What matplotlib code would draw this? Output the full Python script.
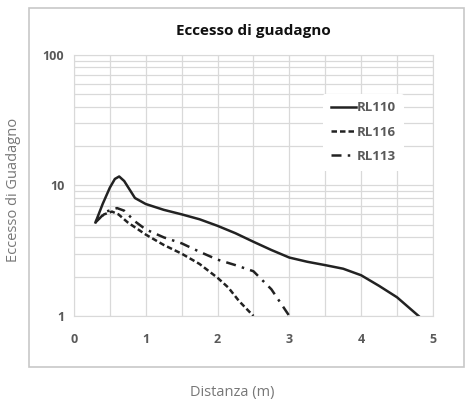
import matplotlib
matplotlib.use("Agg")
import matplotlib.pyplot as plt
from matplotlib.patches import Rectangle
from matplotlib.ticker import LogLocator, NullFormatter, MultipleLocator

# --- Data ---
x_rl110 = [0.3, 0.4, 0.5, 0.57, 0.63, 0.7, 0.85, 1.0, 1.25, 1.5, 1.75, 2.0, 2.25, 2.5,
           2.75, 3.0, 3.25, 3.5, 3.75, 4.0, 4.25, 4.5, 4.8]
y_rl110 = [5.2, 7.2, 9.6, 11.2, 11.7, 10.8, 8.0, 7.2, 6.5, 6.0, 5.5, 4.9, 4.3, 3.7,
           3.2, 2.8, 2.6, 2.45, 2.3, 2.05, 1.7, 1.39, 1.0]

x_rl116 = [0.3, 0.42, 0.53, 0.62, 0.75, 1.0, 1.25, 1.5, 1.75, 2.0, 2.15, 2.3, 2.5]
y_rl116 = [5.3, 6.0, 6.3, 6.0, 5.2, 4.2, 3.5, 3.0, 2.5, 1.96, 1.65, 1.3, 1.0]

x_rl113 = [0.3, 0.45, 0.6, 0.7, 0.85, 1.0, 1.25, 1.5, 1.75, 2.0, 2.25, 2.5, 2.75, 3.0]
y_rl113 = [5.2, 6.3, 6.7, 6.4, 5.3, 4.6, 4.0, 3.6, 3.1, 2.7, 2.45, 2.2, 1.6, 1.0]

TITLE = "Eccesso di guadagno"
XLABEL = "Distanza (m)"
YLABEL = "Eccesso di Guadagno"

TICK_COLOR = "#595959"
GRID_COLOR = "#d9d9d9"

fig = plt.figure(figsize=(4.65, 4.03), dpi=100)

# outer gray frame of the embedded chart
fig.patches.append(Rectangle((0.062, 0.089), 0.936, 0.891, transform=fig.transFigure,
                             fill=False, edgecolor="#c8c8c8", linewidth=1.2))

ax = fig.add_axes([0.159, 0.216, 0.772, 0.648])
ax.set_yscale("log")
ax.set_xlim(0, 5)
ax.set_ylim(1, 100)

ax.plot(x_rl110, y_rl110, color="#222222", lw=1.8, ls="-", label="RL110")
ax.plot(x_rl116, y_rl116, color="#222222", lw=1.8, ls=(0, (2.2, 1.2)), label="RL116")
ax.plot(x_rl113, y_rl113, color="#222222", lw=1.8, ls=(0, (4, 2.5, 1, 2.5)), label="RL113")

ax.xaxis.set_major_locator(MultipleLocator(1))
ax.xaxis.set_minor_locator(MultipleLocator(0.5))
ax.yaxis.set_minor_locator(LogLocator(base=10, subs=range(2, 10)))
ax.yaxis.set_minor_formatter(NullFormatter())
ax.set_yticks([1, 10, 100])
ax.set_yticklabels(["1", "10", "100"])

ax.grid(True, which="both", color=GRID_COLOR, lw=0.9)
ax.set_axisbelow(True)
for s in ax.spines.values():
    s.set_color(GRID_COLOR)
ax.tick_params(which="both", length=0, colors=TICK_COLOR, labelsize=9, pad=7)
for lab in ax.get_xticklabels() + ax.get_yticklabels():
    lab.set_fontweight("bold")
    lab.set_fontfamily("Open Sans")
ax.tick_params(axis="x", pad=12)

ax.set_title(TITLE, fontsize=11, fontweight="bold", family="Open Sans", color="#111111", pad=14)

leg = ax.legend(loc="upper right", bbox_to_anchor=(0.938, 0.877), frameon=True,
                handlelength=1.9, handletextpad=0.1, labelspacing=0.85,
                borderpad=0.6, prop={"family": "Open Sans", "weight": "bold", "size": 9.5})
leg.get_frame().set_edgecolor("none")
leg.get_frame().set_facecolor("white")
leg.get_frame().set_alpha(1)
for t in leg.get_texts():
    t.set_color(TICK_COLOR)

fig.text(0.028, 0.528, YLABEL, rotation=90, ha="center", va="center",
         fontsize=10.5, color="#777777", family="Open Sans")
fig.text(0.5, 0.027, XLABEL, ha="center", va="center",
         fontsize=10.5, color="#777777", family="Open Sans")

fig.savefig("out.png", dpi=100)
